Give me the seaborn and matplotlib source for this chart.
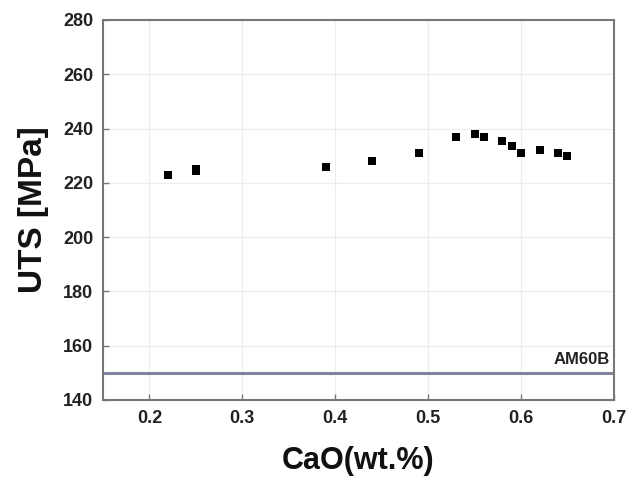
import matplotlib
matplotlib.use("Agg")
import matplotlib.pyplot as plt
import seaborn as sns
import pandas as pd

# CaO content (wt.%) and ultimate tensile strength (MPa)
cao = [0.22, 0.25, 0.25, 0.39, 0.44, 0.49, 0.53, 0.55, 0.56, 0.58, 0.59, 0.60, 0.62, 0.64, 0.65]
uts = [223, 224.3, 225.2, 226, 228, 231, 237, 238, 237, 235.5, 233.5, 231, 232, 231, 230]
am60b_uts = 150
xticks = [0.2, 0.3, 0.4, 0.5, 0.6, 0.7]
yticks = [140, 160, 180, 200, 220, 240, 260, 280]

df = pd.DataFrame({"CaO": cao, "UTS": uts})

sns.set_theme(style="whitegrid")
plt.rcParams["font.family"] = ["Liberation Sans", "DejaVu Sans"]

fig = plt.figure(figsize=(6.29, 4.84), dpi=100)
ax = fig.add_axes([0.1638, 0.1736, 0.8122, 0.7851])

sns.scatterplot(data=df, x="CaO", y="UTS", ax=ax, marker="s", s=26,
                color="black", edgecolor="black", linewidth=0, zorder=3)

ax.axhline(am60b_uts, color="#80849f", linewidth=2.2, zorder=2)
ax.text(0.696, am60b_uts + 2, "AM60B", ha="right", va="bottom",
        fontsize=12, fontweight="bold", color="#222222")

ax.set_xlim(0.15, 0.7)
ax.set_ylim(140, 280)
ax.set_xticks(xticks)
ax.set_yticks(yticks)
ax.set_xticklabels([f"{t:.1f}" for t in xticks])
ax.set_yticklabels([str(t) for t in yticks])

ax.grid(True, color="#ececec", linewidth=0.8)
ax.set_facecolor("white")
for side in ["left", "bottom", "top", "right"]:
    ax.spines[side].set_visible(True)
    ax.spines[side].set_color("#777777")
    ax.spines[side].set_linewidth(1.5)

ax.tick_params(axis="both", direction="in", length=4, width=1, color="#777777",
               labelsize=13, pad=7, bottom=True, left=True)
for lab in ax.get_xticklabels() + ax.get_yticklabels():
    lab.set_fontweight("bold")
    lab.set_color("#222222")

ax.set_xlabel("CaO(wt.%)", fontsize=22, fontweight="bold", color="#111111", labelpad=14)
ax.set_ylabel("UTS [MPa]", fontsize=24, fontweight="bold", color="#111111", labelpad=10)

fig.savefig("out.png", dpi=100)
